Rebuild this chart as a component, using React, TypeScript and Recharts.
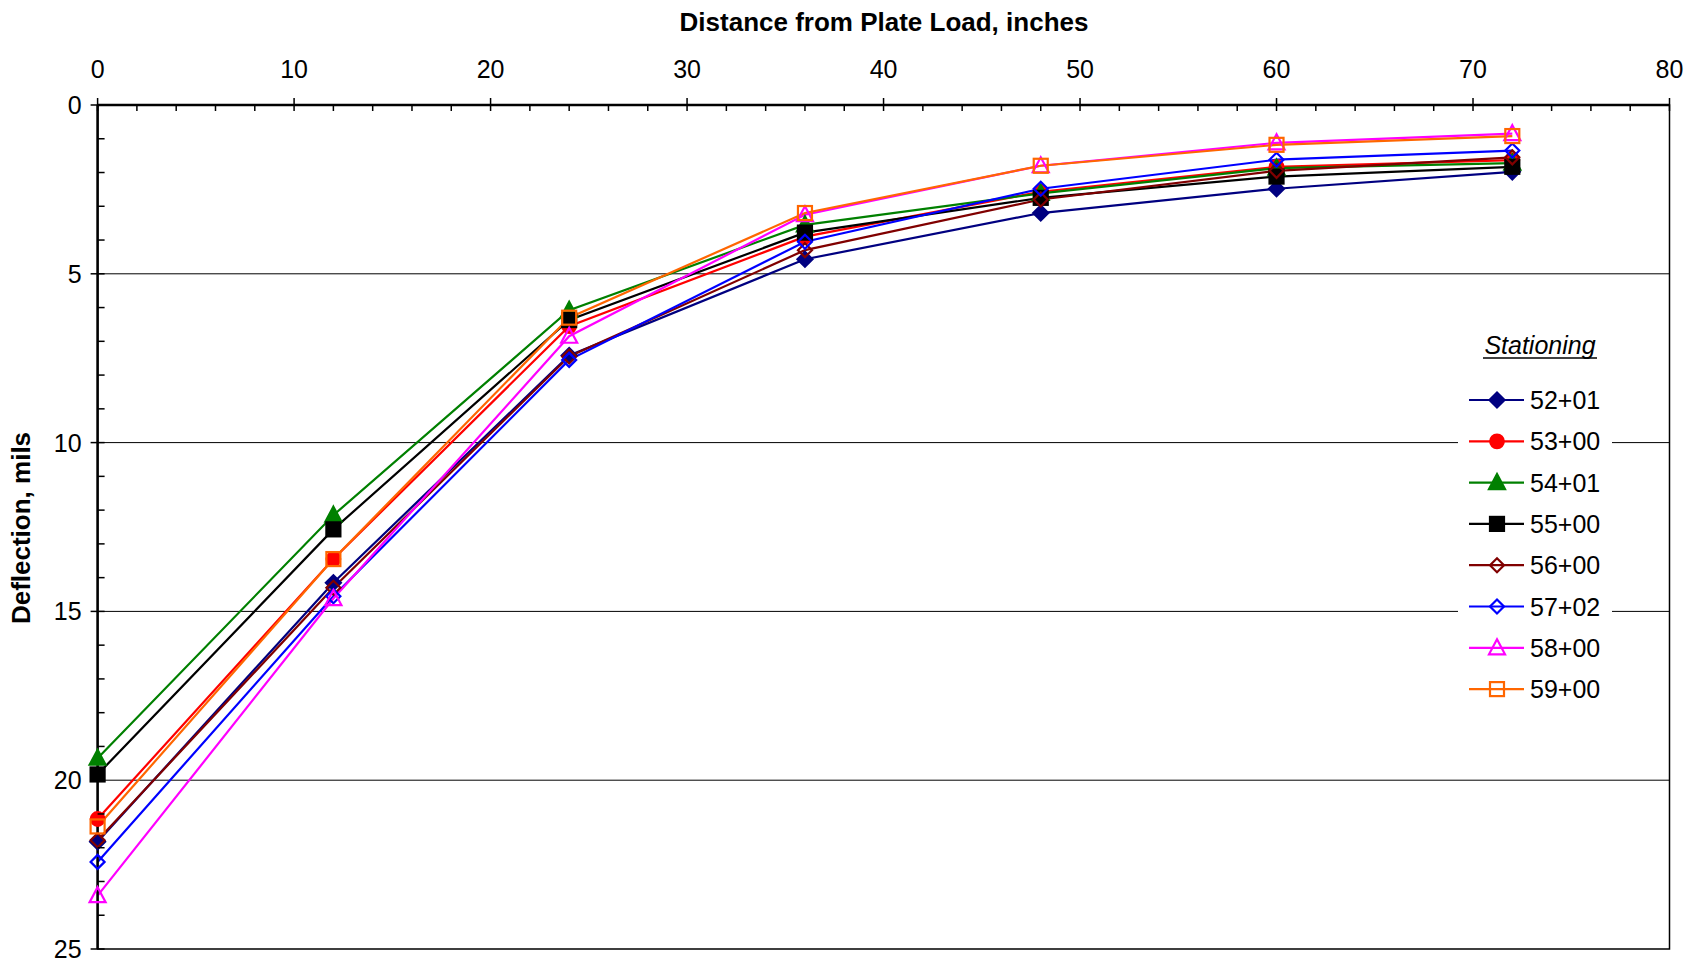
import React from 'react';
import { LineChart, Line, XAxis, YAxis, CartesianGrid, ReferenceArea, Legend } from 'recharts';

const distances = [0, 12, 24, 36, 48, 60, 72];
const s5201 = [21.82, 14.15, 7.42, 4.57, 3.2, 2.48, 1.98];
const s5300 = [21.15, 13.45, 6.55, 3.9, 2.57, 1.83, 1.63];
const s5401 = [19.35, 12.15, 6.08, 3.55, 2.62, 1.87, 1.72];
const s5500 = [19.83, 12.57, 6.37, 3.78, 2.75, 2.12, 1.83];
const s5600 = [21.78, 14.3, 7.45, 4.3, 2.8, 1.95, 1.55];
const s5702 = [22.42, 14.55, 7.55, 4.05, 2.48, 1.62, 1.35];
const s5800 = [23.42, 14.62, 6.85, 3.25, 1.8, 1.12, 0.85];
const s5900 = [21.37, 13.45, 6.3, 3.2, 1.8, 1.18, 0.92];

const xTicks = [0,2,4,6,8,10,12,14,16,18,20,22,24,26,28,30,32,34,36,38,40,42,44,46,48,50,52,54,56,58,60,62,64,66,68,70,72,74,76,78,80];
const yTicks = [0,1,2,3,4,5,6,7,8,9,10,11,12,13,14,15,16,17,18,19,20,21,22,23,24,25];
const gridValues = [5, 10, 15, 20];
const xTitle = 'Distance from Plate Load, inches';
const yTitle = 'Deflection, mils';
const legendTitle = 'Stationing';

type Shape = 'diamond' | 'circle' | 'triangle' | 'square';
interface Series { key: string; name: string; values: number[]; color: string; shape: Shape; filled: boolean }

const series: Series[] = [
  { key: 'a', name: '52+01', values: s5201, color: '#000080', shape: 'diamond', filled: true },
  { key: 'b', name: '53+00', values: s5300, color: '#FF0000', shape: 'circle', filled: true },
  { key: 'c', name: '54+01', values: s5401, color: '#008000', shape: 'triangle', filled: true },
  { key: 'd', name: '55+00', values: s5500, color: '#000000', shape: 'square', filled: true },
  { key: 'e', name: '56+00', values: s5600, color: '#800000', shape: 'diamond', filled: false },
  { key: 'f', name: '57+02', values: s5702, color: '#0000FF', shape: 'diamond', filled: false },
  { key: 'g', name: '58+00', values: s5800, color: '#FF00FF', shape: 'triangle', filled: false },
  { key: 'h', name: '59+00', values: s5900, color: '#FF6600', shape: 'square', filled: false },
];

const data = distances.map((d, i) => {
  const row: any = { x: d };
  series.forEach((s) => { row[s.key] = s.values[i]; });
  return row;
});

const FONT = '"Liberation Sans", Arial, sans-serif';

function Marker({ x, y, shape, color, filled }: { x: number; y: number; shape: Shape; color: string; filled: boolean }) {
  const fill = filled ? color : 'none';
  const sw = 2.2;
  if (shape === 'diamond') {
    const h = filled ? 7.5 : 7;
    return <polygon points={`${x},${y - h} ${x + h},${y} ${x},${y + h} ${x - h},${y}`} fill={fill} stroke={color} strokeWidth={sw} />;
  }
  if (shape === 'circle') {
    return <circle cx={x} cy={y} r={6.8} fill={fill} stroke={color} strokeWidth={sw} />;
  }
  if (shape === 'triangle') {
    const h = 7;
    return <polygon points={`${x},${y - h - 1.5} ${x + h + 1},${y + h - 0.5} ${x - h - 1},${y + h - 0.5}`} fill={fill} stroke={color} strokeWidth={sw} />;
  }
  const h = 7;
  return <rect x={x - h} y={y - h} width={2 * h} height={2 * h} fill={fill} stroke={color} strokeWidth={sw} />;
}

const makeDot = (s: Series) => (props: any) => {
  const { cx, cy, index } = props;
  return <Marker key={`${s.key}-${index}`} x={cx} y={cy} shape={s.shape} color={s.color} filled={s.filled} />;
};

const XTick = (props: any) => {
  const { x, y, payload } = props;
  const v = payload.value;
  const major = v % 10 === 0;
  return (
    <g>
      <line x1={x} x2={x} y1={major ? y - 7 : y} y2={y + 6} stroke="#000" strokeWidth={1.5} />
      {major && (
        <text x={x} y={y - 36} dy={9} textAnchor="middle" fontSize={25} fontFamily={FONT} fill="#000">{v}</text>
      )}
    </g>
  );
};

const YTick = (props: any) => {
  const { x, y, payload } = props;
  const v = payload.value;
  const major = v % 5 === 0;
  return (
    <g>
      <line x1={major ? x - 7 : x} x2={x + 7} y1={y} y2={y} stroke="#000" strokeWidth={1.5} />
      {major && (
        <text x={x - 16} y={y} dy={9} textAnchor="end" fontSize={25} fontFamily={FONT} fill="#000">{v}</text>
      )}
    </g>
  );
};

const LegendContent = () => (
  <svg width={154} height={415} style={{ display: 'block', background: '#fff' }}>
    <text x={82} y={54} textAnchor="middle" fontSize={25} fontStyle="italic" fontFamily={FONT} fill="#000">{legendTitle}</text>
    <line x1={25} x2={139} y1={58} y2={58} stroke="#000" strokeWidth={1.5} />
    {series.map((s, i) => {
      const cy = 100 + i * 41.3;
      return (
        <g key={s.key}>
          <line x1={11} x2={66} y1={cy} y2={cy} stroke={s.color} strokeWidth={2.2} />
          <Marker x={39} y={cy} shape={s.shape} color={s.color} filled={s.filled} />
          <text x={72} y={cy} dy={9} fontSize={25} fontFamily={FONT} fill="#000">{s.name}</text>
        </g>
      );
    })}
  </svg>
);

export default function App() {
  return (
    <div style={{ position: 'absolute', left: 0, top: 0, width: 1701, height: 964, background: '#fff' }}>
      <LineChart width={1701} height={964} data={data} margin={{ top: 0, right: 31.5, bottom: 15, left: 0 }}>
        <CartesianGrid horizontal vertical={false} horizontalValues={gridValues} stroke="#000" strokeWidth={1} />
        <XAxis
          dataKey="x"
          type="number"
          orientation="top"
          domain={[0, 80]}
          ticks={xTicks}
          interval={0}
          height={105}
          tickSize={0}
          tickMargin={0}
          tickLine={false}
          tick={<XTick />}
          axisLine={{ stroke: '#000', strokeWidth: 2.5 }}
        />
        <YAxis
          type="number"
          reversed
          domain={[0, 25]}
          ticks={yTicks}
          interval={0}
          width={97.6}
          tickSize={0}
          tickMargin={0}
          tickLine={false}
          tick={<YTick />}
          axisLine={{ stroke: '#000', strokeWidth: 2.5 }}
        />
        <ReferenceArea x1={0} x2={80} y1={0} y2={25} fill="none" stroke="#000" strokeWidth={1.5} ifOverflow="visible" />
        {series.map((s) => (
          <Line
            key={s.key}
            dataKey={s.key}
            name={s.name}
            stroke={s.color}
            strokeWidth={2.2}
            dot={makeDot(s)}
            activeDot={false}
            isAnimationActive={false}
          />
        ))}
        <Legend
          layout="vertical"
          align="center"
          verticalAlign="middle"
          content={<LegendContent />}
          wrapperStyle={{ left: 1458, top: 300, width: 154, height: 415 }}
        />
      </LineChart>
      <div style={{ position: 'absolute', left: 484, top: 7, width: 800, textAlign: 'center', fontFamily: FONT, fontWeight: 'bold', fontSize: 26, lineHeight: '30px' }}>{xTitle}</div>
      <div style={{ position: 'absolute', left: -129, top: 513, width: 300, height: 30, textAlign: 'center', fontFamily: FONT, fontWeight: 'bold', fontSize: 26, lineHeight: '30px', transform: 'rotate(-90deg)' }}>{yTitle}</div>
    </div>
  );
}
